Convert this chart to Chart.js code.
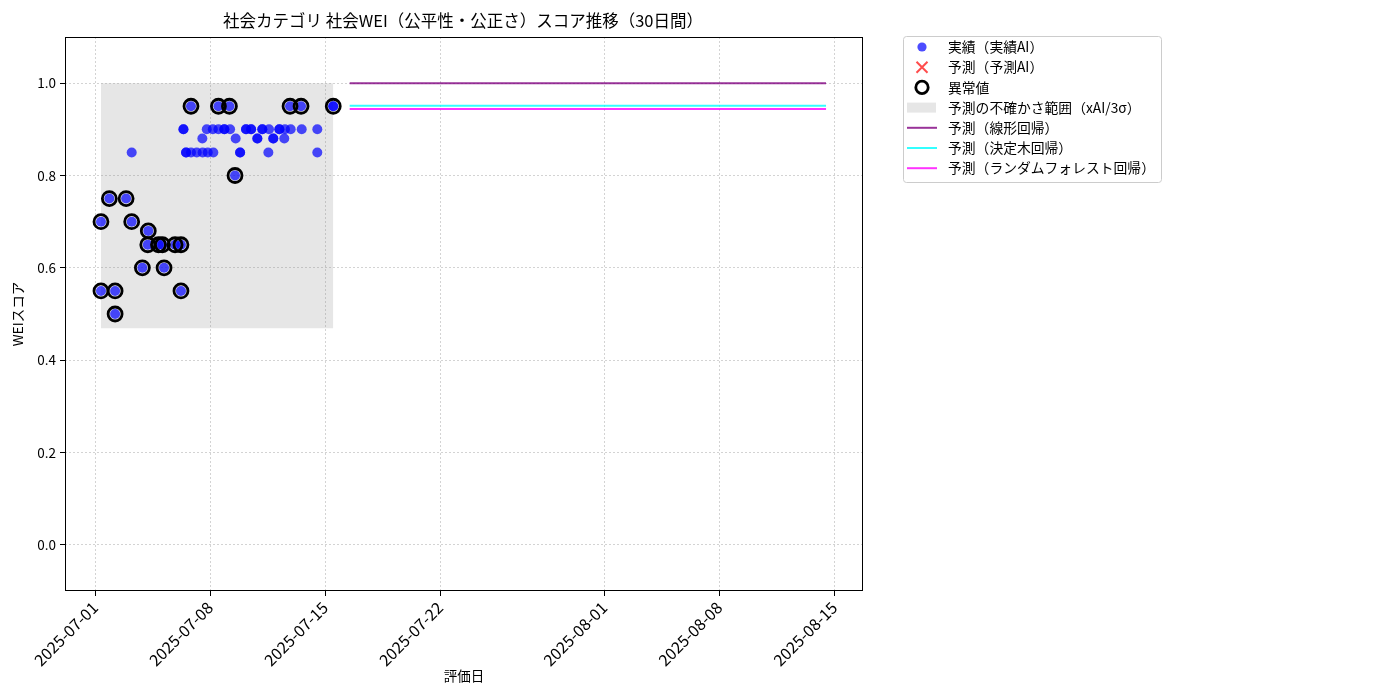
<!DOCTYPE html>
<html>
<head>
<meta charset="utf-8">
<script src="https://cdn.jsdelivr.net/npm/chart.js@4"></script>
<style>
  html, body { margin: 0; padding: 0; background: #fff; }
  #wrap { width: 1400px; height: 700px; }
</style>
</head>
<body>
<div id="wrap"><canvas id="weiChart" width="1400" height="700"></canvas></div>
<script>
// x values are days since 2025-07-01 00:00
const tickDays = [0, 7, 14, 21, 31, 38, 45];
const tickLabels = ['2025-07-01', '2025-07-08', '2025-07-15', '2025-07-22', '2025-08-01', '2025-08-08', '2025-08-15'];
const yTicks = [0.0, 0.2, 0.4, 0.6, 0.8, 1.0];

// actual scores (実績AI)
const actualDays = [
    0.36, 0.36, 0.87, 1.22, 1.22, 1.89, 2.23, 2.88, 3.21, 3.24, 3.86, 4.10, 4.20, 4.87, 5.23, 5.23,
    5.84, 7.51, 8.18, 8.52, 11.87, 12.54, 14.50, 14.50,
    5.38, 5.38, 6.80, 7.17, 7.51, 7.87, 7.87, 8.22, 9.19, 9.19, 9.50, 9.50, 10.18, 10.18, 10.59,
    11.22, 11.22, 11.56, 11.91, 12.58, 13.53,
    6.53, 8.56, 9.88, 9.88, 10.85, 10.85, 11.52,
    2.23, 5.54, 5.54, 5.84, 6.19, 6.55, 6.86, 7.20, 8.83, 8.83, 10.55, 13.53
];
const actualScores = [
    0.55, 0.70, 0.75, 0.55, 0.50, 0.75, 0.70, 0.60, 0.65, 0.68, 0.65, 0.65, 0.60, 0.65, 0.65, 0.55,
    0.95, 0.95, 0.95, 0.80, 0.95, 0.95, 0.95, 0.95,
    0.90, 0.90, 0.90, 0.90, 0.90, 0.90, 0.90, 0.90, 0.90, 0.90, 0.90, 0.90, 0.90, 0.90, 0.90,
    0.90, 0.90, 0.90, 0.90, 0.90, 0.90,
    0.88, 0.88, 0.88, 0.88, 0.88, 0.88, 0.88,
    0.85, 0.85, 0.85, 0.85, 0.85, 0.85, 0.85, 0.85, 0.85, 0.85, 0.85, 0.85
];

// anomalies (異常値)
const outlierDays = [
    0.36, 0.36, 0.87, 1.22, 1.22, 1.89, 2.23, 2.88, 3.21, 3.24, 3.86, 4.10, 4.20, 4.87, 5.23, 5.23,
    5.84, 7.51, 8.18, 8.52, 11.87, 12.54, 14.50
];
const outlierScores = [
    0.55, 0.70, 0.75, 0.55, 0.50, 0.75, 0.70, 0.60, 0.65, 0.68, 0.65, 0.65, 0.60, 0.65, 0.65, 0.55,
    0.95, 0.95, 0.95, 0.80, 0.95, 0.95, 0.95
];

// predicted AI points (none shown)
const predAiDays = [];
const predAiScores = [];

// uncertainty band (xAI/3σ)
const bandDays = [0.36, 14.50];
const bandUpper = [1.0, 1.0];
const bandLower = [0.469, 0.469];

// 30-day forecasts
const forecastDays = [
    15.5, 16.5, 17.5, 18.5, 19.5, 20.5, 21.5, 22.5, 23.5, 24.5,
    25.5, 26.5, 27.5, 28.5, 29.5, 30.5, 31.5, 32.5, 33.5, 34.5,
    35.5, 36.5, 37.5, 38.5, 39.5, 40.5, 41.5, 42.5, 43.5, 44.5
];
const linearPred = [
    1.0, 1.0, 1.0, 1.0, 1.0, 1.0, 1.0, 1.0, 1.0, 1.0,
    1.0, 1.0, 1.0, 1.0, 1.0, 1.0, 1.0, 1.0, 1.0, 1.0,
    1.0, 1.0, 1.0, 1.0, 1.0, 1.0, 1.0, 1.0, 1.0, 1.0
];
const treePred = [
    0.951, 0.951, 0.951, 0.951, 0.951, 0.951, 0.951, 0.951, 0.951, 0.951,
    0.951, 0.951, 0.951, 0.951, 0.951, 0.951, 0.951, 0.951, 0.951, 0.951,
    0.951, 0.951, 0.951, 0.951, 0.951, 0.951, 0.951, 0.951, 0.951, 0.951
];
const forestPred = [
    0.944, 0.944, 0.944, 0.944, 0.944, 0.944, 0.944, 0.944, 0.944, 0.944,
    0.944, 0.944, 0.944, 0.944, 0.944, 0.944, 0.944, 0.944, 0.944, 0.944,
    0.944, 0.944, 0.944, 0.944, 0.944, 0.944, 0.944, 0.944, 0.944, 0.944
];

const FONT = '"Noto Sans CJK JP", "Noto Sans", sans-serif';

function pts(xs, ys) {
    return xs.map((x, i) => ({ x: x, y: ys[i] }));
}

// title, axes frame and the legend outside the plot
const decorPlugin = {
    id: 'decor',
    afterDraw(chart) {
        const ctx = chart.ctx;
        const a = chart.chartArea;
        ctx.save();

        ctx.strokeStyle = '#000';
        ctx.lineWidth = 1;
        ctx.strokeRect(a.left + 0.5, a.top + 0.5, a.right - a.left - 1, a.bottom - a.top - 1);

        ctx.fillStyle = '#000';
        ctx.font = '16.5px ' + FONT;
        ctx.textAlign = 'center';
        ctx.textBaseline = 'middle';
        ctx.fillText('社会カテゴリ 社会WEI（公平性・公正さ）スコア推移（30日間）', (a.left + a.right) / 2 - 1, 21);

        // legend
        const lx = 903, ly = 36, lw = 258, lh = 146;
        ctx.fillStyle = 'rgba(255,255,255,0.8)';
        ctx.strokeStyle = '#cccccc';
        ctx.beginPath();
        ctx.roundRect(lx + 0.5, ly + 0.5, lw, lh, 3);
        ctx.fill();
        ctx.stroke();

        const rows = [
            { label: '実績（実績AI）', kind: 'dot' },
            { label: '予測（予測AI）', kind: 'cross' },
            { label: '異常値', kind: 'ring' },
            { label: '予測の不確かさ範囲（xAI/3σ）', kind: 'band' },
            { label: '予測（線形回帰）', kind: 'line', color: 'rgba(128,0,128,0.8)' },
            { label: '予測（決定木回帰）', kind: 'line', color: 'rgba(0,255,255,0.8)' },
            { label: '予測（ランダムフォレスト回帰）', kind: 'line', color: 'rgba(255,0,255,0.8)' }
        ];
        const mx = 922;
        rows.forEach((r, i) => {
            const y = 47 + i * 20.2;
            if (r.kind === 'dot') {
                ctx.fillStyle = 'rgba(0,0,255,0.7)';
                ctx.beginPath();
                ctx.arc(mx, y, 4.6, 0, Math.PI * 2);
                ctx.fill();
            } else if (r.kind === 'cross') {
                ctx.strokeStyle = 'rgba(255,0,0,0.7)';
                ctx.lineWidth = 2;
                ctx.beginPath();
                ctx.moveTo(mx - 5.5, y - 5.5); ctx.lineTo(mx + 5.5, y + 5.5);
                ctx.moveTo(mx + 5.5, y - 5.5); ctx.lineTo(mx - 5.5, y + 5.5);
                ctx.stroke();
            } else if (r.kind === 'ring') {
                ctx.strokeStyle = '#000';
                ctx.lineWidth = 2.8;
                ctx.beginPath();
                ctx.arc(mx, y, 6.2, 0, Math.PI * 2);
                ctx.stroke();
            } else if (r.kind === 'band') {
                ctx.fillStyle = 'rgba(128,128,128,0.2)';
                ctx.fillRect(907, y - 5, 29, 10);
            } else {
                ctx.strokeStyle = r.color;
                ctx.lineWidth = 2;
                ctx.beginPath();
                ctx.moveTo(907, y); ctx.lineTo(937, y);
                ctx.stroke();
            }
            ctx.fillStyle = '#000';
            ctx.font = '13.8px ' + FONT;
            ctx.textAlign = 'left';
            ctx.textBaseline = 'middle';
            ctx.fillText(r.label, 948, y);
        });
        ctx.restore();
    }
};

const gridOpts = {
    color: 'rgba(176,176,176,0.7)',
    lineWidth: 0.8,
    drawTicks: true,
    tickLength: 5,
    tickColor: '#000',
    tickWidth: 1,
    tickBorderDash: []
};

new Chart(document.getElementById('weiChart'), {
    type: 'scatter',
    data: {
        datasets: [
            {
                label: 'band-upper',
                data: pts(bandDays, bandUpper),
                showLine: true,
                pointRadius: 0,
                borderWidth: 0,
                borderColor: 'rgba(0,0,0,0)',
                backgroundColor: 'rgba(128,128,128,0.2)',
                fill: 1,
                order: 10
            },
            {
                label: 'band-lower',
                data: pts(bandDays, bandLower),
                showLine: true,
                pointRadius: 0,
                borderWidth: 0,
                borderColor: 'rgba(0,0,0,0)',
                fill: false,
                order: 10
            },
            {
                label: '実績（実績AI）',
                data: pts(actualDays, actualScores),
                pointRadius: 5,
                borderWidth: 0,
                backgroundColor: 'rgba(0,0,255,0.7)',
                order: 5
            },
            {
                label: '異常値',
                data: pts(outlierDays, outlierScores),
                pointRadius: 7,
                borderWidth: 2.8,
                borderColor: '#000',
                backgroundColor: 'rgba(0,0,0,0)',
                order: 1
            },
            {
                label: '予測（予測AI）',
                data: pts(predAiDays, predAiScores),
                pointStyle: 'crossRot',
                pointRadius: 6,
                borderColor: 'rgba(255,0,0,0.7)',
                order: 2
            },
            {
                label: '予測（線形回帰）',
                data: pts(forecastDays, linearPred),
                showLine: true,
                pointRadius: 0,
                borderWidth: 2,
                borderColor: 'rgba(128,0,128,0.8)',
                order: 3
            },
            {
                label: '予測（決定木回帰）',
                data: pts(forecastDays, treePred),
                showLine: true,
                pointRadius: 0,
                borderWidth: 2,
                borderColor: 'rgba(0,255,255,0.8)',
                order: 3
            },
            {
                label: '予測（ランダムフォレスト回帰）',
                data: pts(forecastDays, forestPred),
                showLine: true,
                pointRadius: 0,
                borderWidth: 2,
                borderColor: 'rgba(255,0,255,0.8)',
                order: 3
            }
        ]
    },
    options: {
        responsive: false,
        animation: false,
        devicePixelRatio: 1,
        layout: { padding: { left: 0, right: 537, top: 37, bottom: 0 } },
        plugins: {
            legend: { display: false },
            tooltip: { enabled: false },
            title: { display: false }
        },
        scales: {
            x: {
                type: 'linear',
                min: -1.83,
                max: 46.75,
                afterBuildTicks: function(scale) {
                    scale.ticks = tickDays.map(v => ({ value: v }));
                },
                afterFit: function(scale) {
                    scale.height = 109;
                },
                ticks: {
                    minRotation: 45,
                    maxRotation: 45,
                    padding: 2,
                    color: '#000',
                    font: { family: FONT, size: 16 },
                    callback: function(value, index) {
                        return tickLabels[index];
                    }
                },
                grid: gridOpts,
                border: { display: false, dash: [2, 2] },
                title: {
                    display: true,
                    text: '評価日',
                    color: '#000',
                    font: { family: FONT, size: 13.5 },
                    padding: { top: 0, bottom: 16 }
                }
            },
            y: {
                min: -0.1,
                max: 1.1,
                afterBuildTicks: function(scale) {
                    scale.ticks = yTicks.map(v => ({ value: v }));
                },
                afterFit: function(scale) {
                    scale.width = 65;
                },
                ticks: {
                    padding: 4,
                    color: '#000',
                    font: { family: FONT, size: 13.5 },
                    callback: function(value) {
                        return value.toFixed(1);
                    }
                },
                grid: gridOpts,
                border: { display: false, dash: [2, 2] },
                title: {
                    display: true,
                    text: 'WEIスコア',
                    color: '#000',
                    font: { family: FONT, size: 13.5 },
                    padding: { top: 10, bottom: 0 }
                }
            }
        }
    },
    plugins: [decorPlugin]
});
</script>
</body>
</html>
